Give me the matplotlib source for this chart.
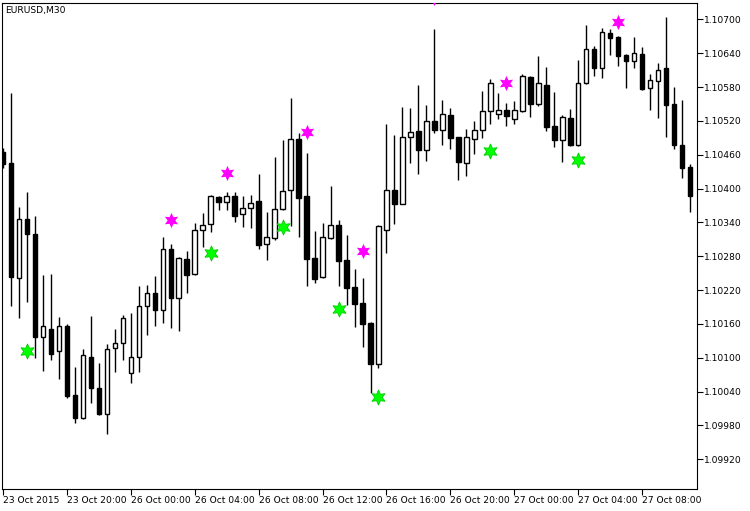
import numpy as np
import matplotlib
matplotlib.use('Agg')
import matplotlib.pyplot as plt

# EURUSD M30 bars, 23 Oct 2015 16:00 .. 27 Oct 2015 11:00
opens = [1.10465, 1.10445, 1.10241, 1.10346, 1.10319, 1.10137, 1.10151, 1.10112, 1.10156, 1.10034,
         1.09993, 1.10101, 1.10046, 1.10000, 1.10117, 1.10126, 1.10073, 1.10101, 1.10192, 1.10215,
         1.10185, 1.10293, 1.10206, 1.10275, 1.10248, 1.10326, 1.10337, 1.10385, 1.10376, 1.10387,
         1.10355, 1.10365, 1.10378, 1.10302, 1.10312, 1.10363, 1.10397, 1.10488, 1.10387, 1.10277,
         1.10243, 1.10312, 1.10335, 1.10273, 1.10226, 1.10197, 1.10162, 1.10089, 1.10326, 1.10397,
         1.10373, 1.10491, 1.10502, 1.10468, 1.10520, 1.10504, 1.10530, 1.10491, 1.10445, 1.10488,
         1.10504, 1.10537, 1.10532, 1.10539, 1.10523, 1.10537, 1.10598, 1.10550, 1.10584, 1.10511,
         1.10486, 1.10525, 1.10477, 1.10587, 1.10647, 1.10614, 1.10676, 1.10669, 1.10637, 1.10626,
         1.10638, 1.10578, 1.10591, 1.10614, 1.10550, 1.10477, 1.10438]
highs = [1.10472, 1.10569, 1.10367, 1.10394, 1.10351, 1.10247, 1.10248, 1.10172, 1.10160, 1.10084,
         1.10116, 1.10174, 1.10091, 1.10124, 1.10151, 1.10176, 1.10179, 1.10228, 1.10229, 1.10245,
         1.10314, 1.10302, 1.10279, 1.10289, 1.10339, 1.10357, 1.10388, 1.10387, 1.10394, 1.10394,
         1.10387, 1.10389, 1.10426, 1.10358, 1.10456, 1.10486, 1.10560, 1.10498, 1.10463, 1.10325,
         1.10339, 1.10405, 1.10344, 1.10318, 1.10257, 1.10241, 1.10163, 1.10335, 1.10514, 1.10495,
         1.10545, 1.10543, 1.10584, 1.10548, 1.10683, 1.10557, 1.10543, 1.10492, 1.10506, 1.10520,
         1.10573, 1.10594, 1.10569, 1.10552, 1.10555, 1.10603, 1.10599, 1.10635, 1.10615, 1.10571,
         1.10530, 1.10541, 1.10628, 1.10690, 1.10653, 1.10685, 1.10683, 1.10670, 1.10638, 1.10669,
         1.10651, 1.10603, 1.10623, 1.10704, 1.10580, 1.10557, 1.10443]
lows = [1.10436, 1.10192, 1.10171, 1.10199, 1.10100, 1.10077, 1.10096, 1.10062, 1.10029, 1.09984,
        1.09991, 1.10020, 1.09998, 1.09965, 1.10075, 1.10096, 1.10055, 1.10075, 1.10140, 1.10156,
        1.10162, 1.10153, 1.10147, 1.10215, 1.10246, 1.10296, 1.10323, 1.10362, 1.10362, 1.10341,
        1.10332, 1.10330, 1.10293, 1.10273, 1.10309, 1.10362, 1.10334, 1.10314, 1.10228, 1.10233,
        1.10241, 1.10311, 1.10228, 1.10194, 1.10155, 1.10119, 1.10038, 1.10082, 1.10286, 1.10337,
        1.10372, 1.10445, 1.10426, 1.10449, 1.10498, 1.10477, 1.10470, 1.10415, 1.10422, 1.10461,
        1.10490, 1.10514, 1.10523, 1.10511, 1.10514, 1.10536, 1.10527, 1.10546, 1.10502, 1.10474,
        1.10447, 1.10475, 1.10476, 1.10586, 1.10600, 1.10596, 1.10637, 1.10617, 1.10578, 1.10614,
        1.10575, 1.10539, 1.10525, 1.10491, 1.10470, 1.10419, 1.10358]
closes = [1.10443, 1.10243, 1.10346, 1.10319, 1.10137, 1.10156, 1.10107, 1.10156, 1.10032, 1.09993,
          1.10105, 1.10046, 1.10000, 1.10116, 1.10126, 1.10171, 1.10101, 1.10192, 1.10215, 1.10185,
          1.10293, 1.10206, 1.10277, 1.10247, 1.10326, 1.10335, 1.10387, 1.10376, 1.10387, 1.10351,
          1.10365, 1.10374, 1.10300, 1.10314, 1.10363, 1.10396, 1.10488, 1.10383, 1.10275, 1.10240,
          1.10314, 1.10335, 1.10272, 1.10224, 1.10195, 1.10160, 1.10089, 1.10334, 1.10397, 1.10373,
          1.10491, 1.10500, 1.10468, 1.10520, 1.10504, 1.10532, 1.10490, 1.10447, 1.10491, 1.10504,
          1.10537, 1.10587, 1.10539, 1.10529, 1.10539, 1.10600, 1.10550, 1.10587, 1.10509, 1.10486,
          1.10527, 1.10477, 1.10587, 1.10647, 1.10614, 1.10678, 1.10667, 1.10635, 1.10626, 1.10640,
          1.10576, 1.10592, 1.10610, 1.10548, 1.10477, 1.10436, 1.10387]

# indicator signals (bar index, price)
up_idx = [21, 28, 38, 45, 54, 63, 77]
up_val = [1.10345, 1.10427, 1.10501, 1.10289, 1.10738, 1.10588, 1.10696]
dn_idx = [3, 26, 35, 42, 47, 61, 72]
dn_val = [1.10112, 1.10285, 1.10332, 1.10186, 1.10030, 1.10467, 1.10450]

xtick_idx = [0, 8, 16, 24, 32, 40, 48, 56, 64, 72, 80]
xtick_lbl = ['23 Oct 2015', '23 Oct 20:00', '26 Oct 00:00', '26 Oct 04:00', '26 Oct 08:00',
             '26 Oct 12:00', '26 Oct 16:00', '26 Oct 20:00', '27 Oct 00:00', '27 Oct 04:00',
             '27 Oct 08:00']
ytick_vals = [1.09920, 1.09980, 1.10040, 1.10100, 1.10160, 1.10220, 1.10280, 1.10340,
              1.10400, 1.10460, 1.10520, 1.10580, 1.10640, 1.10700]

if __name__ == '__main__':
    o = np.array(opens)
    h = np.array(highs)
    l = np.array(lows)
    c = np.array(closes)
    x = np.arange(len(o))

    fig = plt.figure(figsize=(7.5, 5.11), dpi=100)
    ax = fig.add_axes([0.0033, 0.043, 0.926, 0.952])

    # wicks
    ax.vlines(x, l, h, color='black', linewidth=1.0, zorder=2)
    # bodies
    up = c >= o
    body = np.maximum(np.abs(c - o), 0.000012)
    ax.bar(x[up], body[up], bottom=np.minimum(o, c)[up], width=0.55,
           color='white', edgecolor='black', linewidth=1.0, zorder=3)
    ax.bar(x[~up], body[~up], bottom=np.minimum(o, c)[~up], width=0.55,
           color='black', edgecolor='black', linewidth=1.0, zorder=3)

    # signal stars
    ax.plot(up_idx, up_val, linestyle='none', marker=(6, 1, 0), markersize=11,
            color='#FF00FF', markeredgewidth=0, zorder=4)
    ax.plot(dn_idx, dn_val, linestyle='none', marker=(6, 1, 0), markersize=11,
            color='#00FF00', markeredgecolor='#00C000', markeredgewidth=0.5, zorder=4)

    ax.set_xlim(-0.05, 86.85)
    ax.set_ylim(1.09867, 1.10730)

    ax.yaxis.tick_right()
    ax.set_yticks(ytick_vals)
    ax.set_yticklabels(['%.5f' % v for v in ytick_vals])
    ax.set_xticks(xtick_idx)
    ax.set_xticklabels(xtick_lbl, ha='left')
    ax.tick_params(axis='both', direction='out', length=4, width=0.8, labelsize=6.6,
                   colors='black', pad=1)
    for sp in ax.spines.values():
        sp.set_linewidth(0.8)
        sp.set_color('black')

    ax.text(0.004, 0.992, 'EURUSD,M30', transform=ax.transAxes, fontsize=6.6,
            va='top', ha='left')

    plt.savefig('out.png', dpi=100, facecolor='white')
